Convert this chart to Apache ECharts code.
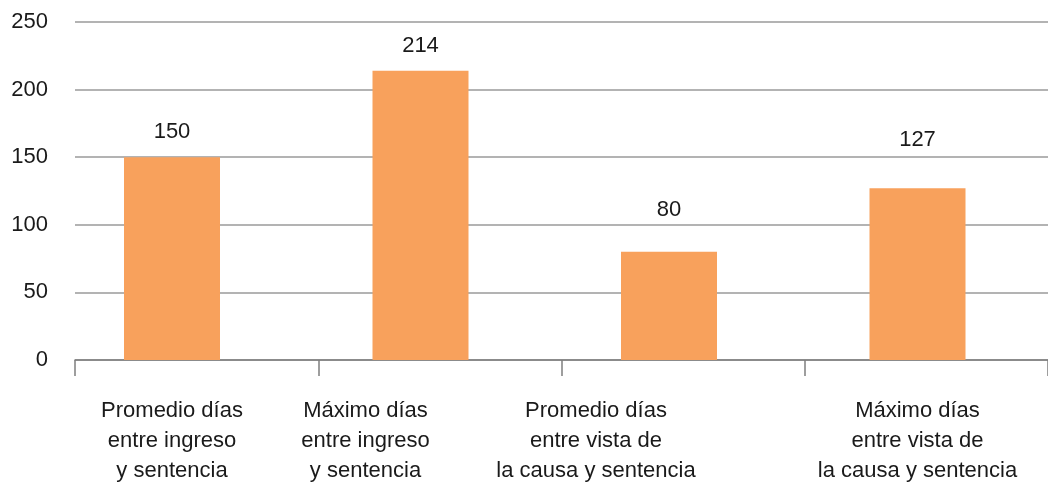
<!DOCTYPE html>
<html>
<head>
<meta charset="utf-8">
<script src="https://cdn.jsdelivr.net/npm/echarts@6/dist/echarts.min.js"></script>
<style>
html,body{margin:0;padding:0;background:#fff;}
#c{width:1048px;height:486px;}
</style>
</head>
<body>
<div id="c"></div>
<script>
const categories = [
  "Promedio días\nentre ingreso\ny sentencia",
  "Máximo días\nentre ingreso\ny sentencia",
  "Promedio días\nentre vista de\nla causa y sentencia",
  "Máximo días\nentre vista de\nla causa y sentencia"
];
const values = [150, 214, 80, 127];
const yTicks = [0, 50, 100, 150, 200, 250];

const FONT = '"Liberation Sans", Arial, sans-serif';
const labelLift = [14, 14, 31, 37];
const labelShift = [0, 110, 146, 0];

const chart = echarts.init(document.getElementById('c'), null, {renderer: 'canvas'});
chart.setOption({
  animation: false,
  backgroundColor: '#ffffff',
  grid: [
    {left: 47.75, right: 6.25, top: 22, bottom: 126, containLabel: false},
    {left: 75, right: -2, top: 22, bottom: 126, containLabel: false}
  ],
  xAxis: [
    {
      type: 'category', gridIndex: 0,
      data: categories.map((c, i) => ({
        value: c,
        textStyle: {padding: [0, labelShift[i], 0, 0]}
      })),
      axisLine: {show: false}, axisTick: {show: false},
      axisLabel: {
        interval: 0, margin: 36, color: '#1a1a1a',
        fontFamily: FONT, fontSize: 22, lineHeight: 30, align: 'center'
      }
    },
    {
      type: 'category', gridIndex: 1,
      data: categories.map(() => ''),
      axisLine: {show: true, lineStyle: {color: '#7f7f7f', width: 1.5}},
      axisTick: {show: true, length: 16, lineStyle: {color: '#7f7f7f', width: 1.5}},
      axisLabel: {show: false}
    }
  ],
  yAxis: [
    {
      type: 'value', gridIndex: 0, min: 0, max: 250, interval: 50,
      axisLine: {show: false}, axisTick: {show: false},
      axisLabel: {show: false}, splitLine: {show: false}
    },
    {
      type: 'value', gridIndex: 1, min: yTicks[0], max: yTicks[yTicks.length - 1], interval: 50,
      axisLine: {show: false}, axisTick: {show: false},
      axisLabel: {
        margin: 27, color: '#1a1a1a', fontFamily: FONT, fontSize: 22
      },
      splitLine: {show: true, lineStyle: {color: '#9a9a9a', width: 1.5}}
    }
  ],
  series: [{
    type: 'bar',
    xAxisIndex: 0, yAxisIndex: 0,
    barWidth: 96,
    data: values.map((v, i) => ({
      value: v,
      label: {distance: labelLift[i]}
    })),
    itemStyle: {color: '#F8A15C'},
    label: {
      show: true, position: 'top', color: '#1a1a1a',
      fontFamily: FONT, fontSize: 22
    }
  }]
});
</script>
</body>
</html>
